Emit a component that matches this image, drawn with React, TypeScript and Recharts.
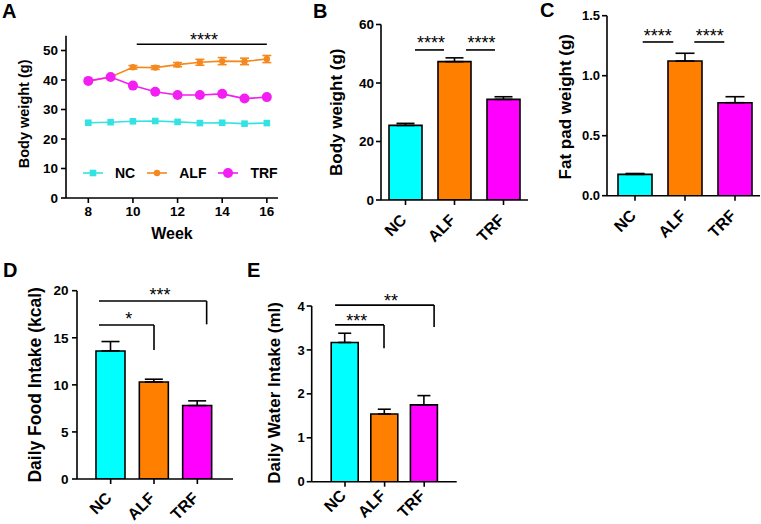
import React from 'react';
import {
  LineChart, Line, BarChart, Bar, XAxis, YAxis, ErrorBar, Cell,
  ReferenceLine, ReferenceDot, Legend,
} from 'recharts';

const FONT = '"Liberation Sans", Arial, Helvetica, sans-serif';
const W = 761;
const H = 524;

// ---------- Panel A: body weight over weeks ----------
const weeks = [8, 9, 10, 11, 12, 13, 14, 15, 16];
const ncWeight = [25.5, 25.7, 26.0, 26.1, 25.8, 25.4, 25.5, 25.2, 25.4];
const alfWeight = [39.6, 41.0, 44.3, 44.2, 45.2, 46.0, 46.4, 46.3, 47.1];
const alfWeightErr = [0.4, 0.5, 0.6, 0.6, 0.7, 1.0, 1.2, 1.1, 1.2];
const trfWeight = [39.7, 41.0, 38.1, 36.0, 34.9, 34.9, 35.3, 33.7, 34.2];
const weekTicks = [8, 10, 12, 14, 16];
const weightTicksA = [0, 10, 20, 30, 40, 50];

// ---------- Groups ----------
const groups = ['NC', 'ALF', 'TRF'];
const groupIdx = [0, 1, 2];
const barColors = ['#00FFFF', '#FF8000', '#FF00FF'];
const lineColors = ['#33E3E3', '#F5891F', '#F21EF2'];

// Panel B: final body weight
const finalWeight = [25.5, 47.3, 34.4];
const finalWeightErr = [0.7, 1.3, 0.9];
const weightTicksB = [0, 20, 40, 60];
// Panel C: fat pad weight
const fatPad = [0.178, 1.122, 0.775];
const fatPadErr = [0.007, 0.065, 0.05];
const fatTicks = [0, 0.5, 1.0, 1.5];
// Panel D: daily food intake
const foodIntake = [13.6, 10.3, 7.8];
const foodIntakeErr = [1.0, 0.3, 0.5];
const foodTicks = [0, 5, 10, 15, 20];
// Panel E: daily water intake
const waterIntake = [3.17, 1.54, 1.75];
const waterIntakeErr = [0.21, 0.11, 0.21];
const waterTicks = [0, 1, 2, 3, 4];

// Significance annotations (data coordinates)
const sigA = [{ x1: 10.17, x2: 16, y: 52.1, text: '****', tx: 13.18, ty: 55.15 }];
const sigB = [
  { x1: 0.194, x2: 0.786, y: 51.3, text: '****', tx: 0.52, ty: 55.1 },
  { x1: 1.235, x2: 1.827, y: 51.3, text: '****', tx: 1.55, ty: 55.1 },
];
const sigC = [
  { x1: 0.154, x2: 0.766, y: 1.281, text: '****', tx: 0.456, ty: 1.367 },
  { x1: 1.186, x2: 1.786, y: 1.281, text: '****', tx: 1.494, ty: 1.367 },
];
const sigD = [
  { x1: -0.27, x2: 1.0, y: 16.36, legY: 13.7, text: '*', tx: 0.42, ty: 17.42 },
  { x1: -0.27, x2: 2.215, y: 18.9, legY: 16.43, text: '***', tx: 1.14, ty: 20.0 },
];
const sigE = [
  { x1: -0.25, x2: 0.985, y: 3.57, legY: 3.04, text: '***', tx: 0.3, ty: 3.76 },
  { x1: -0.25, x2: 2.25, y: 4.02, legY: 3.52, text: '**', tx: 1.16, ty: 4.21 },
];

const panelLetters = [
  { t: 'A', x: 2, y: 18.3 },
  { t: 'B', x: 313, y: 18.3 },
  { t: 'C', x: 540, y: 17 },
  { t: 'D', x: 3, y: 277 },
  { t: 'E', x: 247, y: 277 },
];

const weekData = weeks.map((w, i) => ({
  week: w,
  nc: ncWeight[i],
  alf: alfWeight[i],
  alfErr: alfWeightErr[i],
  trf: trfWeight[i],
}));

const barData = (vals: number[], errs: number[]) =>
  groupIdx.map((i) => ({ idx: i, name: groups[i], value: vals[i], err: [0, errs[i]] }));

const axisStroke = { stroke: '#000', strokeWidth: 1.6 };

const yTitle = (text: string, gap: number, dy: number, fs: number) => (props: any) => {
  const vb = props.viewBox || {};
  const x = vb.x + vb.width - gap;
  const y = vb.y + vb.height / 2 + dy;
  return (
    <text x={x} y={y} transform={`rotate(-90 ${x} ${y})`} textAnchor="middle"
      dominantBaseline="central" fontFamily={FONT} fontWeight="bold" fontSize={fs} fill="#000">
      {text}
    </text>
  );
};

const xTitle = (text: string, dy: number, fs: number) => (props: any) => {
  const vb = props.viewBox || {};
  const x = vb.x + vb.width / 2;
  const y = vb.y + dy;
  return (
    <text x={x} y={y} textAnchor="middle" dominantBaseline="central"
      fontFamily={FONT} fontWeight="bold" fontSize={fs} fill="#000">
      {text}
    </text>
  );
};

const starLabel = (text: string) => (props: any) => {
  const vb = props.viewBox || {};
  const x = vb.x + (vb.width || 0) / 2;
  const y = vb.y + (vb.height || 0) / 2;
  return (
    <text x={x} y={y} dy="0.58em" textAnchor="middle" fontFamily={FONT} fontSize={18} fill="#000">
      {text}
    </text>
  );
};

const sigElements = (list: any[], prefix: string) =>
  list.flatMap((s, i) => {
    const els: any[] = [
      <ReferenceLine key={`${prefix}h${i}`} segment={[{ x: s.x1, y: s.y }, { x: s.x2, y: s.y }]}
        stroke="#000" strokeWidth={1.6} ifOverflow="visible" />,
    ];
    if (s.legY !== undefined) {
      els.push(
        <ReferenceLine key={`${prefix}v${i}`} segment={[{ x: s.x2, y: s.y }, { x: s.x2, y: s.legY }]}
          stroke="#000" strokeWidth={1.6} ifOverflow="visible" />,
      );
    }
    els.push(
      <ReferenceDot key={`${prefix}t${i}`} x={s.tx} y={s.ty} r={0} fill="none" stroke="none"
        ifOverflow="visible" label={{ content: starLabel(s.text) }} />,
    );
    return els;
  });

const CatTick = (props: any) => {
  const { x, y, payload, labelDy } = props;
  const px = x + 2;
  const py = y + labelDy;
  return (
    <text x={px} y={py} transform={`rotate(-45 ${px} ${py})`} textAnchor="end"
      fontFamily={FONT} fontWeight="bold" fontSize={16} fill="#000">
      {groups[payload.value]}
    </text>
  );
};

const marker = (name: string, cx: number, cy: number, key?: any) => {
  if (name === 'NC') {
    return <rect key={key} x={cx - 3.3} y={cy - 3.3} width={6.6} height={6.6} fill={lineColors[0]} />;
  }
  if (name === 'ALF') {
    return <circle key={key} cx={cx} cy={cy} r={3.2} fill={lineColors[1]} />;
  }
  return <circle key={key} cx={cx} cy={cy} r={5} fill={lineColors[2]} />;
};

const dotFor = (name: string) => (props: any) => marker(name, props.cx, props.cy, `${name}-${props.index}`);

const legendContent = (props: any) => {
  const payload = [...(props.payload || [])].sort(
    (a: any, b: any) => groups.indexOf(a.value) - groups.indexOf(b.value),
  );
  return (
    <div style={{ display: 'flex', alignItems: 'center', fontFamily: FONT, fontWeight: 'bold', fontSize: 14, color: '#000', lineHeight: '20px' }}>
      {payload.map((entry: any) => (
        <div key={entry.value} style={{ display: 'flex', alignItems: 'center', marginRight: 12 }}>
          <svg width={20} height={20} style={{ display: 'block' }}>
            <line x1={0} y1={10} x2={20} y2={10} stroke={entry.color} strokeWidth={1.6} />
            {marker(entry.value, 10, 10)}
          </svg>
          <span style={{ marginLeft: 12 }}>{entry.value}</span>
        </div>
      ))}
    </div>
  );
};

const PanelA = () => (
  <div style={{ position: 'absolute', left: 0, top: 0 }}>
    <LineChart width={W} height={H} data={weekData}
      margin={{ top: 35.75, left: 20, right: W - 278, bottom: H - 198 - 45 }}>
      <XAxis type="number" dataKey="week" domain={[7, 16.5]} ticks={weekTicks} allowDataOverflow
        axisLine={axisStroke} tickLine={axisStroke} tickSize={5} tickMargin={3} height={45}
        tick={{ fill: '#000', fontSize: 13.5, fontWeight: 'bold', fontFamily: FONT }}
        label={{ content: xTitle('Week', 35, 16) }} />
      <YAxis type="number" domain={[0, 55]} ticks={weightTicksA} allowDataOverflow width={46}
        axisLine={axisStroke} tickLine={axisStroke} tickSize={5} tickMargin={3}
        tick={{ fill: '#000', fontSize: 13.5, fontWeight: 'bold', fontFamily: FONT }}
        label={{ content: yTitle('Body weight (g)', 42, -3, 14.5) }} />
      <Legend layout="horizontal" verticalAlign="middle" align="center" content={legendContent}
        wrapperStyle={{ left: 83, top: 163, width: 220, height: 20 }} />
      <Line type="linear" dataKey="nc" name="NC" stroke={lineColors[0]} strokeWidth={1.6}
        dot={dotFor('NC')} activeDot={false} isAnimationActive={false} />
      <Line type="linear" dataKey="alf" name="ALF" stroke={lineColors[1]} strokeWidth={1.6}
        dot={dotFor('ALF')} activeDot={false} isAnimationActive={false}>
        <ErrorBar dataKey="alfErr" direction="y" width={4.5} stroke={lineColors[1]} strokeWidth={1.6} />
      </Line>
      <Line type="linear" dataKey="trf" name="TRF" stroke={lineColors[2]} strokeWidth={1.6}
        dot={dotFor('TRF')} activeDot={false} isAnimationActive={false} />
      {sigElements(sigA, 'a')}
    </LineChart>
  </div>
);

type BarPanelProps = {
  data: any[];
  margin: any;
  padding: { left: number; right: number };
  yDomain: [number, number];
  yTicks: number[];
  tickFmt?: (v: number) => string;
  yTickSize: number;
  yTickMargin: number;
  barSize: number;
  capW: number;
  title: string;
  titleGap: number;
  titleDy: number;
  titleSize: number;
  labelDy: number;
  sig: any[];
  prefix: string;
};

const BarPanel = (p: BarPanelProps) => (
  <div style={{ position: 'absolute', left: 0, top: 0 }}>
    <BarChart width={W} height={H} data={p.data} margin={p.margin}>
      <XAxis type="number" dataKey="idx" domain={[-0.5, 2.5]} ticks={groupIdx} allowDataOverflow
        interval={0} padding={p.padding} height={40}
        axisLine={axisStroke} tickLine={axisStroke} tickSize={5} tickMargin={2}
        tick={(tp: any) => <CatTick {...tp} labelDy={p.labelDy} />} />
      <YAxis type="number" domain={p.yDomain} ticks={p.yTicks} allowDataOverflow width={50}
        tickFormatter={p.tickFmt} axisLine={axisStroke} tickLine={axisStroke}
        tickSize={5} tickMargin={p.yTickMargin}
        tick={{ fill: '#000', fontSize: p.yTickSize, fontWeight: 'bold', fontFamily: FONT }}
        label={{ content: yTitle(p.title, p.titleGap, p.titleDy, p.titleSize) }} />
      <Bar dataKey="value" barSize={p.barSize} stroke="#000" strokeWidth={1.6} isAnimationActive={false}>
        {p.data.map((d: any) => (
          <Cell key={d.name} fill={barColors[d.idx]} />
        ))}
        <ErrorBar dataKey="err" direction="y" width={p.capW} stroke="#000" strokeWidth={1.6} />
      </Bar>
      {sigElements(p.sig, p.prefix)}
    </BarChart>
  </div>
);

export default function App() {
  return (
    <div style={{ position: 'absolute', left: 0, top: 0, width: W, height: H, background: '#fff', overflow: 'hidden' }}>
      <PanelA />
      <BarPanel data={barData(finalWeight, finalWeightErr)} prefix="b"
        margin={{ top: 24.5, left: 331, right: W - 528, bottom: H - 200 - 40 }}
        padding={{ left: 0, right: 0 }} yDomain={[0, 60]} yTicks={weightTicksB}
        yTickSize={13.5} yTickMargin={2} barSize={33} capW={9} labelDy={14}
        title="Body weight (g)" titleGap={45} titleDy={0} titleSize={17} sig={sigB} />
      <BarPanel data={barData(fatPad, fatPadErr)} prefix="c"
        margin={{ top: 15.7, left: 557, right: 1, bottom: H - 195.7 - 40 }}
        padding={{ left: 3, right: 0 }} yDomain={[0, 1.5]} yTicks={fatTicks}
        tickFmt={(v: number) => v.toFixed(1)}
        yTickSize={13} yTickMargin={2} barSize={34} capW={9.5} labelDy={14}
        title="Fat pad weight (g)" titleGap={41} titleDy={1} titleSize={17} sig={sigC} />
      <BarPanel data={barData(foodIntake, foodIntakeErr)} prefix="d"
        margin={{ top: 290.7, left: 27, right: W - 233, bottom: H - 479 - 40 }}
        padding={{ left: 12, right: 14 }} yDomain={[0, 20]} yTicks={foodTicks}
        yTickSize={13.5} yTickMargin={3.5} barSize={29} capW={9} labelDy={13}
        title="Daily Food Intake (kcal)" titleGap={42} titleDy={0} titleSize={17.5} sig={sigD} />
      <BarPanel data={barData(waterIntake, waterIntakeErr)} prefix="e"
        margin={{ top: 306, left: 261.7, right: W - 456.7, bottom: H - 481.7 - 40 }}
        padding={{ left: 13.5, right: 12.7 }} yDomain={[0, 4]} yTicks={waterTicks}
        yTickSize={13} yTickMargin={2} barSize={27} capW={6.5} labelDy={8}
        title="Daily Water Intake (ml)" titleGap={37} titleDy={-1} titleSize={17} sig={sigE} />
      <svg width={W} height={H} style={{ position: 'absolute', left: 0, top: 0, pointerEvents: 'none' }}>
        {panelLetters.map((l) => (
          <text key={l.t} x={l.x} y={l.y} fontFamily={FONT} fontWeight="bold" fontSize={20} fill="#000">
            {l.t}
          </text>
        ))}
      </svg>
    </div>
  );
}
